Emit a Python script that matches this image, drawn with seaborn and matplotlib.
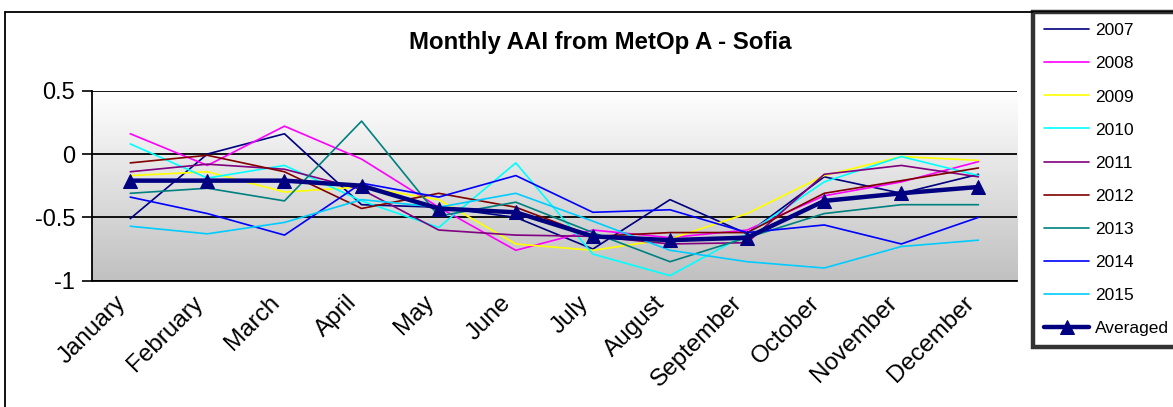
import numpy as np
import pandas as pd
import matplotlib
matplotlib.use("Agg")
import matplotlib.pyplot as plt
import matplotlib.transforms as mtransforms
import seaborn as sns
from matplotlib.colors import LinearSegmentedColormap
from matplotlib.lines import Line2D

months = ["January", "February", "March", "April", "May", "June", "July",
          "August", "September", "October", "November", "December"]

y2007 = [-0.51, 0.00, 0.16, -0.40, -0.42, -0.50, -0.75, -0.36, -0.63, -0.18, -0.31, -0.16]
y2008 = [0.16, -0.09, 0.22, -0.04, -0.42, -0.76, -0.60, -0.66, -0.60, -0.33, -0.22, -0.06]
y2009 = [-0.17, -0.14, -0.30, -0.26, -0.36, -0.71, -0.76, -0.67, -0.47, -0.17, -0.02, -0.05]
y2010 = [0.08, -0.19, -0.09, -0.37, -0.58, -0.07, -0.79, -0.96, -0.63, -0.22, -0.02, -0.17]
y2011 = [-0.14, -0.08, -0.12, -0.28, -0.60, -0.64, -0.65, -0.71, -0.70, -0.16, -0.09, -0.18]
y2012 = [-0.07, -0.01, -0.14, -0.43, -0.31, -0.42, -0.65, -0.62, -0.62, -0.31, -0.21, -0.11]
y2013 = [-0.31, -0.27, -0.37, 0.26, -0.49, -0.38, -0.62, -0.85, -0.66, -0.47, -0.40, -0.40]
y2014 = [-0.34, -0.47, -0.64, -0.23, -0.34, -0.17, -0.46, -0.44, -0.62, -0.56, -0.71, -0.50]
y2015 = [-0.57, -0.63, -0.54, -0.36, -0.42, -0.31, -0.53, -0.76, -0.85, -0.90, -0.73, -0.68]
averaged = [-0.21, -0.21, -0.21, -0.25, -0.43, -0.46, -0.65, -0.68, -0.66, -0.37, -0.31, -0.26]

series_names = ["2007", "2008", "2009", "2010", "2011", "2012", "2013", "2014", "2015"]
series_values = [y2007, y2008, y2009, y2010, y2011, y2012, y2013, y2014, y2015]
series_colors = ["#000080", "#FF00FF", "#FFFF00", "#00FFFF", "#800080",
                 "#800000", "#008080", "#0000FF", "#00CCFF"]

sns.set_theme(style="white")
plt.rcParams["font.family"] = ["Liberation Sans", "DejaVu Sans"]

W, H = 1173, 407
fig = plt.figure(figsize=(W / 100, H / 100), dpi=100)
fig.patch.set_facecolor("white")

ax = fig.add_axes([91.7 / W, 1 - 280.7 / H, (1017 - 91.7) / W, (280.7 - 90.7) / H])

# gradient background
cmap = LinearSegmentedColormap.from_list("g", ["#C0C0C0", "#FFFFFF"])
grad = np.linspace(0, 1, 256).reshape(-1, 1)
ax.imshow(grad, cmap=cmap, extent=[0, 1, 0, 1], transform=ax.transAxes,
          aspect="auto", origin="lower", zorder=0)

xpos = np.arange(len(months))
for name, vals, col in zip(series_names, series_values, series_colors):
    df = pd.DataFrame({"x": xpos, "y": vals})
    sns.lineplot(data=df, x="x", y="y", color=col, lw=1.2, ax=ax,
                 label=name, sort=False, zorder=3)

dfa = pd.DataFrame({"x": xpos, "y": averaged})
sns.lineplot(data=dfa, x="x", y="y", color="#000080", lw=3.2, marker="^",
             markersize=10, markeredgecolor="#000080", ax=ax, label="Averaged",
             sort=False, zorder=4)

ax.set_xlim(-0.5, 11.5)
ax.set_ylim(-1, 0.5)
ax.set_yticks([-1, -0.5, 0, 0.5])
ax.set_yticklabels(["-1", "-0.5", "0", "0.5"])
ax.set_xticks(xpos)
ax.set_xticklabels(months, rotation=45, ha="right", va="center", rotation_mode="anchor")
ax.set_xticks(np.arange(-0.5, 12, 1), minor=True)
ax.tick_params(axis="x", which="major", length=0, pad=12, labelsize=17.5, colors="black")
ax.tick_params(axis="x", which="minor", length=8, width=1.2, direction="out", color="black")
ax.tick_params(axis="y", length=7, width=1.2, direction="out", labelsize=17,
               colors="black", pad=5, left=True)
offset = mtransforms.ScaledTranslation(-8 / 100, -2 / 100, fig.dpi_scale_trans)
for lbl in ax.get_xticklabels():
    lbl.set_transform(lbl.get_transform() + offset)
ax.set_xlabel("")
ax.set_ylabel("")
ax.grid(axis="y", color="black", lw=1.3, zorder=1)
ax.grid(axis="x", visible=False)
ax.set_axisbelow(False)
for s in ["top", "right"]:
    ax.spines[s].set_visible(False)
for s in ["left", "bottom"]:
    ax.spines[s].set_color("black")
    ax.spines[s].set_linewidth(1.3)

# outer chart frame
fig.add_artist(Line2D([5 / W, 1.0], [1 - 12 / H, 1 - 12 / H], color="black", lw=1.3,
                      transform=fig.transFigure))
fig.add_artist(Line2D([5 / W, 5 / W], [0, 1 - 12 / H], color="black", lw=1.3,
                      transform=fig.transFigure))

fig.text(600 / W, 1 - 42 / H, "Monthly AAI from MetOp A - Sofia", ha="center",
         va="center", fontsize=17.3, fontweight="bold", color="black")

handles, labels = ax.get_legend_handles_labels()
ax.get_legend().remove()
leg = fig.legend(handles, labels, loc="upper left",
                 bbox_to_anchor=(1033 / W, 1 - 12 / H), bbox_transform=fig.transFigure,
                 fontsize=12.5, frameon=True, fancybox=False, borderaxespad=0,
                 handlelength=2.6, handletextpad=0.3, labelspacing=1.03, borderpad=0.65)
leg.get_frame().set_edgecolor("black")
leg.get_frame().set_linewidth(3.2)
leg.get_frame().set_facecolor("white")
for t in leg.get_texts():
    t.set_color("black")

fig.savefig("out.png", dpi=100)
